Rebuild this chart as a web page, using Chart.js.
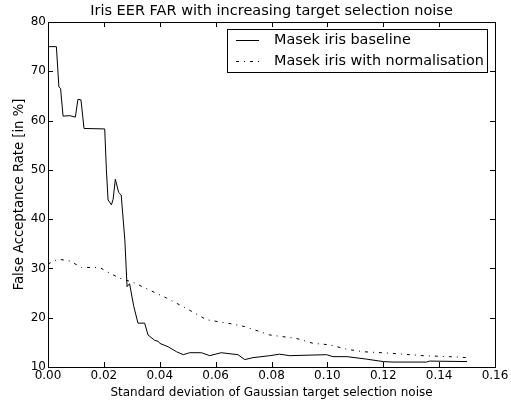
<!DOCTYPE html>
<html>
<head>
<meta charset="utf-8">
<script src="https://cdn.jsdelivr.net/npm/chart.js@4/dist/chart.umd.min.js"></script>
<style>
  body { margin: 0; background: #fff; }
</style>
</head>
<body>
<canvas id="myChart" width="511" height="400"></canvas>
<script>
const baselineX = [0, 0.003, 0.0039, 0.0045, 0.0054, 0.0078, 0.0098, 0.0107, 0.0118, 0.0129, 0.0203, 0.0209, 0.0215, 0.0227, 0.0233, 0.0241, 0.0253, 0.0262, 0.0275, 0.0283, 0.0292, 0.0307, 0.0322, 0.0346, 0.0358, 0.0382, 0.0395, 0.04, 0.043, 0.046, 0.0484, 0.0507, 0.0549, 0.0579, 0.062, 0.068, 0.0704, 0.0734, 0.0794, 0.0829, 0.0865, 0.0997, 0.102, 0.107, 0.114, 0.12, 0.1235, 0.1355, 0.1366, 0.15];
const baselineY = [75, 75, 66.8, 66.5, 60.9, 61, 60.7, 64.3, 64.2, 58.4, 58.3, 50, 43.9, 42.9, 44, 48.1, 45.4, 44.9, 35.8, 26.3, 26.9, 22.3, 18.9, 18.9, 16.5, 15.4, 15.2, 14.8, 14.1, 13.1, 12.5, 12.9, 12.9, 12.3, 12.9, 12.5, 11.5, 11.9, 12.3, 12.6, 12.3, 12.5, 12.1, 12.1, 11.6, 11.1, 11.0, 11.0, 11.2, 11.1];

const normX = [0, 0.0036, 0.0078, 0.012, 0.0185, 0.0209, 0.0257, 0.0304, 0.0364, 0.0424, 0.0495, 0.0567, 0.0662, 0.0704, 0.0794, 0.0889, 0.0949, 0.1008, 0.107, 0.1128, 0.1224, 0.1343, 0.1438, 0.15];
const normY = [30.9, 31.9, 31.5, 30.2, 30.2, 29.4, 28.0, 27.2, 25.6, 24.0, 21.9, 19.6, 18.7, 18.2, 16.5, 15.8, 14.8, 14.5, 13.6, 13.1, 12.8, 12.3, 12.1, 11.9];

const seriesNames = ['Masek iris baseline', 'Masek iris with normalisation'];
const chartTitle = 'Iris EER FAR with increasing target selection noise';
const xTicks = [0, 0.02, 0.04, 0.06, 0.08, 0.10, 0.12, 0.14, 0.16];
const yTicks = [10, 20, 30, 40, 50, 60, 70, 80];

const FONT = 'DejaVu Sans';
const DASHDOT = [3, 5, 1, 5];

(() => {
    const ctx = document.getElementById('myChart').getContext('2d');

    // title over the axes, frame + inward ticks on all four sides, legend box
    const framePlugin = {
        id: 'frame',
        afterDatasetsDraw(chart) {
            const c = chart.ctx;
            const a = chart.chartArea;
            const sx = chart.scales.x, sy = chart.scales.y;
            c.save();
            c.fillStyle = '#000';
            c.font = '14.5px "' + FONT + '"';
            c.textAlign = 'center';
            c.textBaseline = 'middle';
            c.fillText(chartTitle, (a.left + a.right) / 2, 11);

            c.strokeStyle = '#000';
            c.lineWidth = 1;
            c.strokeRect(Math.round(a.left) + 0.5, Math.round(a.top) + 0.5,
                Math.round(a.right - a.left), Math.round(a.bottom - a.top));
            c.beginPath();
            xTicks.forEach(v => {
                const px = Math.round(sx.getPixelForValue(v)) + 0.5;
                c.moveTo(px, a.bottom); c.lineTo(px, a.bottom - 5);
                c.moveTo(px, a.top); c.lineTo(px, a.top + 5);
            });
            yTicks.forEach(v => {
                const py = Math.round(sy.getPixelForValue(v)) + 0.5;
                c.moveTo(a.left, py); c.lineTo(a.left + 5, py);
                c.moveTo(a.right, py); c.lineTo(a.right - 5, py);
            });
            c.stroke();

            // legend
            const lx = 227.5, ly = 29.5, lw = 260, lh = 43;
            c.fillStyle = '#fff';
            c.fillRect(lx, ly, lw, lh);
            c.strokeRect(lx, ly, lw, lh);
            c.font = '14.4px "' + FONT + '"';
            c.fillStyle = '#000';
            c.textAlign = 'left';
            seriesNames.forEach((name, i) => {
                const y = 40.5 + i * 21;
                c.beginPath();
                c.setLineDash(i === 0 ? [] : DASHDOT);
                c.moveTo(236, y); c.lineTo(259, y);
                c.stroke();
                c.setLineDash([]);
                c.fillText(name, 274, y);
            });
            c.restore();
        }
    };

    const data = {
        datasets: [
            {
                label: seriesNames[0],
                data: baselineX.map((x, i) => ({ x: x, y: baselineY[i] })),
                borderColor: '#000',
                borderWidth: 1,
                pointRadius: 0,
                tension: 0
            },
            {
                label: seriesNames[1],
                data: normX.map((x, i) => ({ x: x, y: normY[i] })),
                borderColor: '#000',
                borderWidth: 1,
                borderDash: DASHDOT,
                pointRadius: 0,
                tension: 0
            }
        ]
    };

    const config = {
        type: 'line',
        data: data,
        options: {
            responsive: false,
            animation: false,
            layout: { padding: { left: 0, right: 16, top: 22, bottom: 0 } },
            scales: {
                x: {
                    type: 'linear',
                    min: 0,
                    max: 0.16,
                    afterBuildTicks: s => { s.ticks = xTicks.map(v => ({ value: v })); },
                    afterFit: s => { s.height = 33; },
                    grid: { display: false, drawTicks: false },
                    border: { display: false },
                    ticks: {
                        color: '#000',
                        padding: 2,
                        maxRotation: 0,
                        font: { family: FONT, size: 12 },
                        callback: v => Number(v).toFixed(2)
                    },
                    title: {
                        display: true,
                        text: 'Standard deviation of Gaussian target selection noise',
                        color: '#000',
                        font: { family: FONT, size: 12 },
                        padding: { top: 2, bottom: 0 }
                    }
                },
                y: {
                    min: 10,
                    max: 80,
                    afterBuildTicks: s => { s.ticks = yTicks.map(v => ({ value: v })); },
                    afterFit: s => { s.width = 48; },
                    grid: { display: false, drawTicks: false },
                    border: { display: false },
                    ticks: {
                        color: '#000',
                        padding: 2,
                        font: { family: FONT, size: 12 }
                    },
                    title: {
                        display: true,
                        text: 'False Acceptance Rate [in %]',
                        color: '#000',
                        font: { family: FONT, size: 13.2 },
                        padding: { top: 11.5, bottom: 0 }
                    }
                }
            },
            plugins: {
                legend: { display: false },
                tooltip: { enabled: false },
                title: { display: false }
            }
        },
        plugins: [framePlugin]
    };

    const myChart = new Chart(ctx, config);
})()
</script>
</body>
</html>
